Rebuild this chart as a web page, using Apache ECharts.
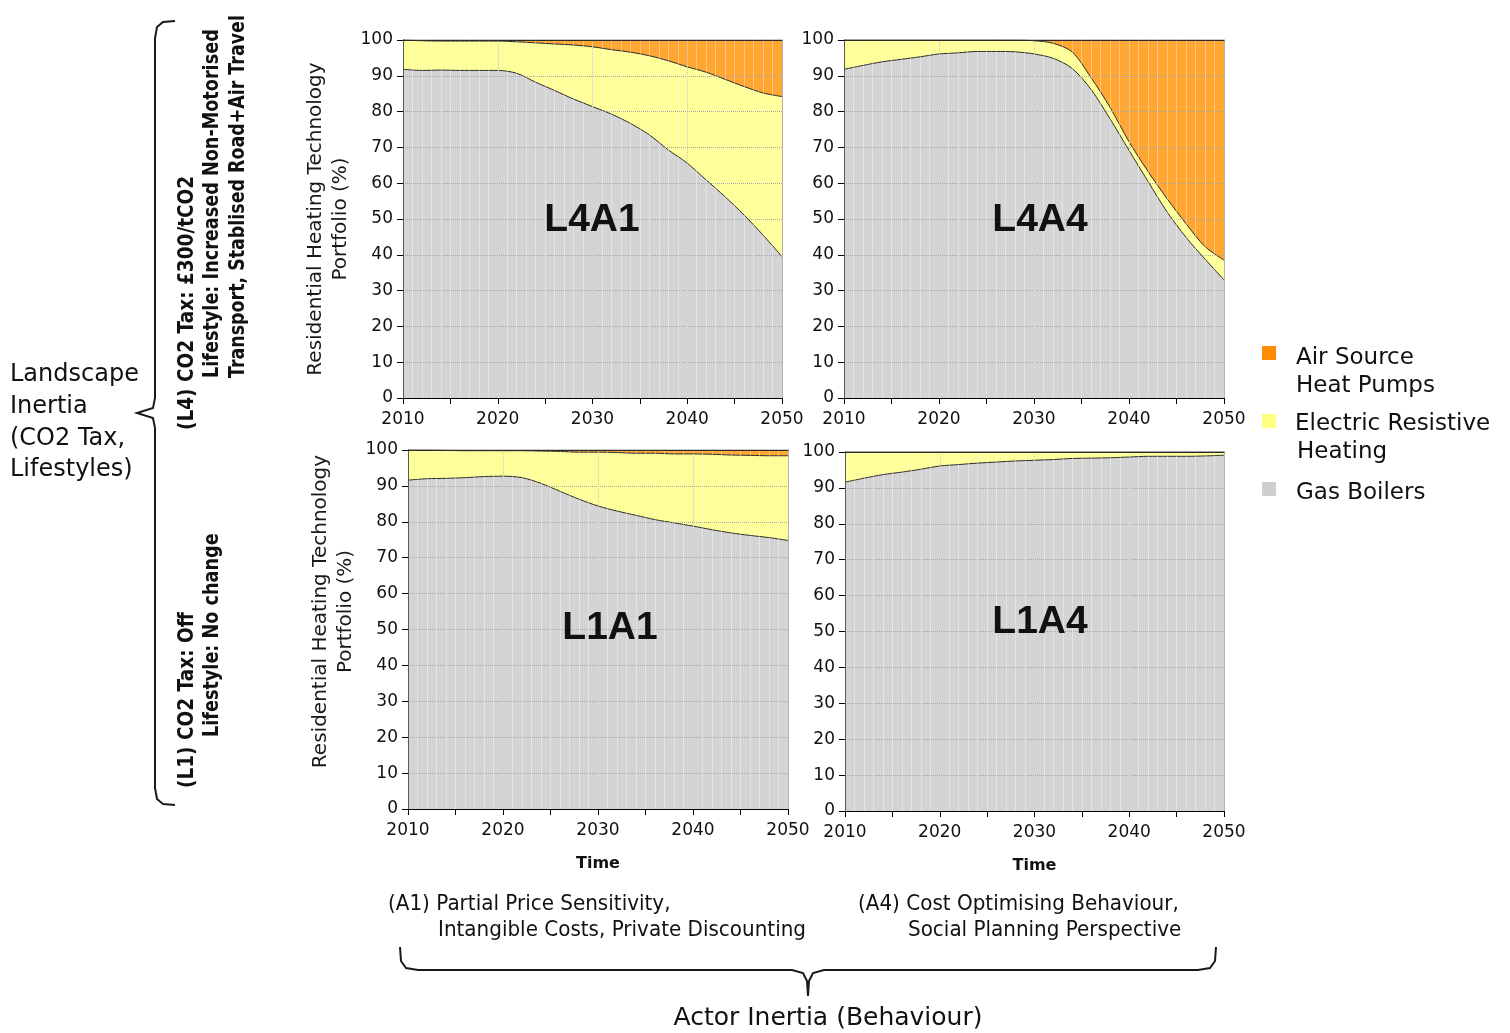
<!DOCTYPE html>
<html>
<head>
<meta charset="utf-8">
<script src="https://cdn.jsdelivr.net/npm/echarts@6/dist/echarts.min.js"></script>
<style>
html,body{margin:0;padding:0;background:#fff;}
#chart{width:1510px;height:1033px;}
</style>
</head>
<body>
<div id="chart"></div>
<script>
// ---------- DATA ----------
const years = [2010,2012,2014,2016,2018,2020,2022,2024,2026,2028,2030,2032,2034,2036,2038,2040,2042,2044,2046,2048,2050];
const seriesNames = ['Gas Boilers', 'Electric Resistive Heating', 'Air Source Heat Pumps'];
const panelNames = ['L4A1', 'L4A4', 'L1A1', 'L1A4'];

// L4A1
const L4A1_gas  = [91.8,91.5,91.6,91.5,91.5,91.5,90.7,88.2,85.9,83.5,81.4,79.3,76.7,73.5,69.3,65.6,60.9,56.2,51.1,45.5,39.5];
const L4A1_elec = [8.2,8.3,8.1,8.2,8.2,8.2,8.8,11.0,13.0,15.1,16.7,18.0,19.9,22.1,24.9,26.9,30.1,32.8,35.9,39.7,44.7];
const L4A1_ashp = [0,0.2,0.3,0.3,0.3,0.3,0.5,0.8,1.1,1.4,1.9,2.7,3.4,4.4,5.8,7.5,9.0,11.0,13.0,14.8,15.8];
// L4A4
const L4A4_gas  = [91.8,92.9,93.9,94.6,95.3,96.1,96.4,96.8,96.8,96.7,96.1,94.9,92.1,86.2,78.0,69.2,60.5,52.0,44.9,38.8,33.0];
const L4A4_elec = [8.2,7.1,6.1,5.4,4.7,3.9,3.6,3.2,3.2,3.3,3.7,4.2,4.6,3.3,3.2,2.4,2.8,3.7,3.8,3.5,5.5];
const L4A4_ashp = [0,0,0,0,0,0,0,0,0,0,0.2,0.9,3.3,10.5,18.8,28.4,36.7,44.3,51.3,57.7,61.5];
// L1A1
const L1A1_gas  = [91.6,92.0,92.1,92.3,92.6,92.7,92.3,90.7,88.5,86.3,84.4,83.0,81.8,80.6,79.7,78.8,77.8,76.9,76.2,75.6,74.8];
const L1A1_elec = [8.4,8.0,7.8,7.5,7.2,7.1,7.5,9.0,11.1,13.1,15.0,16.3,17.3,18.5,19.2,20.1,21.0,21.7,22.3,22.8,23.6];
const L1A1_ashp = [0,0,0.1,0.2,0.2,0.2,0.2,0.3,0.4,0.6,0.6,0.7,0.9,0.9,1.1,1.1,1.2,1.4,1.5,1.6,1.6];
// L1A4
const L1A4_gas  = [91.6,92.7,93.7,94.4,95.2,96.1,96.5,96.9,97.2,97.5,97.7,97.9,98.2,98.3,98.4,98.6,98.8,98.8,98.8,98.9,99.1];
const L1A4_elec = [8.4,7.3,6.3,5.6,4.8,3.9,3.5,3.1,2.8,2.5,2.3,2.1,1.8,1.7,1.6,1.4,1.2,1.2,1.2,1.1,0.9];
const L1A4_ashp = [0,0,0,0,0,0,0,0,0,0,0,0,0,0,0,0,0,0,0,0,0];

const yAxisName = 'Residential Heating Technology\nPortfolio (%)';
const xAxisName = 'Time';

// ---------- LAYOUT ----------
const panels = [
  {label:panelNames[0], grid:{left:403, top:40, width:379, height:358}, data:[L4A1_gas,L4A1_elec,L4A1_ashp], lab:[592,220], yName:true,  xName:false, namePad:0},
  {label:panelNames[1], grid:{left:844, top:40, width:380, height:358}, data:[L4A4_gas,L4A4_elec,L4A4_ashp], lab:[1040,220], yName:false, xName:false, namePad:0},
  {label:panelNames[2], grid:{left:408, top:450, width:380, height:359}, data:[L1A1_gas,L1A1_elec,L1A1_ashp], lab:[610,628], yName:true,  xName:true, namePad:36},
  {label:panelNames[3], grid:{left:845, top:452, width:379, height:359}, data:[L1A4_gas,L1A4_elec,L1A4_ashp], lab:[1040,622], yName:false, xName:true, namePad:0}
];
const fillColors = ['#d4d4d4', '#ffff99', '#ffa633'];
const legendColors = ['#cfcfcf', '#ffff80', '#ff8c00'];
const FONT = 'DejaVu Sans';

const grid = [], xAxis = [], yAxis = [], series = [];
panels.forEach((p, i) => {
  grid.push(Object.assign({containLabel:false}, p.grid));
  xAxis.push({
    type:'value', gridIndex:i, min:2010, max:2050, interval:10, position:'bottom', z:3,
    axisLine:{show:true, onZero:false, lineStyle:{color:'#000', width:1}},
    axisTick:{show:true, length:6, lineStyle:{color:'#000'}},
    minorTick:{show:true, splitNumber:2, length:6, lineStyle:{color:'#000'}},
    axisLabel:{margin:13, fontFamily:FONT, fontSize:17, color:'#111', formatter: v => String(v)},
    splitLine:{show:true, lineStyle:{type:'dotted', color:'#a6a6a6', width:1}},
    name: p.xName ? xAxisName : '', nameLocation:'middle', nameGap:47,
    nameTextStyle:{fontFamily:FONT, fontSize:16, fontWeight:'bold', color:'#111'}
  });
  xAxis.push({
    type:'value', gridIndex:i, min:2010, max:2050, interval:1, position:'top', z:4,
    axisLine:{show:true, onZero:false, lineStyle:{color:'#2b2b2b', width:1}},
    axisTick:{show:false}, axisLabel:{show:false},
    splitLine:{show:true, lineStyle:{color:'rgba(255,255,255,0.35)', width:1}}
  });
  yAxis.push({
    type:'value', gridIndex:i, min:0, max:100, interval:10, position:'left', z:3,
    axisLine:{show:true, onZero:false, lineStyle:{color:'#000', width:1}},
    axisTick:{show:true, length:6, lineStyle:{color:'#000'}},
    axisLabel:{margin:10, fontFamily:FONT, fontSize:17, color:'#111'},
    splitLine:{show:true, lineStyle:{type:'dotted', color:'#a6a6a6', width:1}},
    name: p.yName ? yAxisName : '', nameLocation:'middle', nameGap:50, nameRotate:90,
    nameTextStyle:{fontFamily:FONT, fontSize:20, lineHeight:25, color:'#1a1a1a', align:'center',
      padding: p.namePad ? [0,0,0,p.namePad] : 0}
  });
  yAxis.push({
    type:'value', gridIndex:i, min:0, max:100, interval:10, position:'right', z:3,
    axisLine:{show:true, lineStyle:{color:'#8a8a8a', width:1}},
    axisTick:{show:false}, axisLabel:{show:false}, splitLine:{show:false}
  });
  p.data.forEach((arr, s) => {
    series.push({
      type:'line', name:seriesNames[s], xAxisIndex:2*i, yAxisIndex:2*i, stack:'panel'+i,
      // value first so the library stacks the share (y) dimension
      data: years.map((y, k) => [arr[k], y]),
      encode:{x:1, y:0},
      symbol:'none', smooth:0.3, z:2,
      lineStyle:{color:'#2b2b2b', width:1},
      itemStyle:{color:fillColors[s]},
      areaStyle:{color:fillColors[s], opacity:1}
    });
  });
});

// ---------- ANNOTATIONS ----------
const graphic = [];
panels.forEach(p => {
  graphic.push({type:'text', x:p.lab[0], y:p.lab[1], z:10,
    style:{text:p.label, fill:'#111', font:"bold 39px 'Liberation Sans', Arial, sans-serif", textAlign:'center', textVerticalAlign:'middle'}});
});
// legend
const legendItems = [
  {c:legendColors[2], y:346, lines:[['Air Source',1296,358],['Heat Pumps',1296,386]]},
  {c:legendColors[1], y:414, lines:[['Electric Resistive',1295,424],['Heating',1297,452]]},
  {c:legendColors[0], y:482, lines:[['Gas Boilers',1296,493]]}
];
legendItems.forEach(it => {
  graphic.push({type:'rect', shape:{x:1262, y:it.y, width:14, height:14}, style:{fill:it.c}});
  it.lines.forEach(l => graphic.push({type:'text', x:l[1], y:l[2],
    style:{text:l[0], fill:'#111', font:"23px 'DejaVu Sans'", textAlign:'left', textVerticalAlign:'middle'}}));
});
// left labels
['Landscape','Inertia','(CO2 Tax,','Lifestyles)'].forEach((t, k) => {
  graphic.push({type:'text', x:10, y:375 + k*31.7,
    style:{text:t, fill:'#111', font:"24px 'DejaVu Sans'", textAlign:'left', textVerticalAlign:'middle'}});
});
const rot = [
  ['(L4) CO2 Tax: £300/tCO2', 188, 430, 0.88],
  ['Lifestyle: Increased Non-Motorised', 213, 378, 0.84],
  ['Transport, Stablised Road+Air Travel', 239, 378, 0.83],
  ['(L1) CO2 Tax: Off', 188, 788, 0.88],
  ['Lifestyle: No change', 213, 737, 0.84]
];
rot.forEach(r => graphic.push({type:'text', x:r[1], y:r[2], rotation:Math.PI/2, scaleX:r[3],
  style:{text:r[0], fill:'#111', font:"bold 21px 'DejaVu Sans'", textAlign:'left', textVerticalAlign:'middle'}}));
// bottom labels
[
  ['(A1) Partial Price Sensitivity,', 388, 905],
  ['Intangible Costs, Private Discounting', 438, 931],
  ['(A4) Cost Optimising Behaviour,', 858, 905],
  ['Social Planning Perspective', 908, 931]
].forEach(b => graphic.push({type:'text', x:b[1], y:b[2], scaleX:0.95,
  style:{text:b[0], fill:'#111', font:"21px 'DejaVu Sans'", textAlign:'left', textVerticalAlign:'middle'}}));
graphic.push({type:'text', x:828, y:1018,
  style:{text:'Actor Inertia (Behaviour)', fill:'#111', font:"25px 'DejaVu Sans'", textAlign:'center', textVerticalAlign:'middle'}});
// brackets
graphic.push({type:'polyline', shape:{points:[[175,21],[163,22],[157,27],[155,38],[155,398],[153,408],[137,413],[153,418],[155,428],[155,788],[157,799],[163,804],[175,805]]},
  style:{fill:null, stroke:'#1a1a1a', lineWidth:2}});
graphic.push({type:'polyline', shape:{points:[[400,947],[401,961],[406,968],[418,970],[792,970],[803,973],[807,981],[808,996],[809,981],[813,973],[824,970],[1198,970],[1210,968],[1215,961],[1216,947]]},
  style:{fill:null, stroke:'#1a1a1a', lineWidth:2}});

const chart = echarts.init(document.getElementById('chart'), null, {renderer:'canvas'});
chart.setOption({
  animation:false,
  backgroundColor:'#fff',
  grid, xAxis, yAxis, series, graphic
});
</script>
</body>
</html>
